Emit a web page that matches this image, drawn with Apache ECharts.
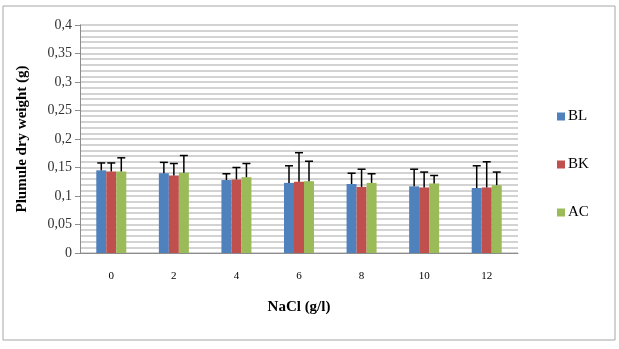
<!DOCTYPE html>
<html>
<head>
<meta charset="utf-8">
<script src="https://cdn.jsdelivr.net/npm/echarts@6/dist/echarts.min.js"></script>
<style>
  html, body { margin: 0; padding: 0; background: #fff; }
  #chart { width: 619px; height: 349px; }
</style>
</head>
<body>
<div id="chart"></div>
<script>
// NaCl concentration (g/l)
var categories = ['0', '2', '4', '6', '8', '10', '12'];

var blValues = [0.145, 0.140, 0.128, 0.123, 0.121, 0.117, 0.114];
var bkValues = [0.143, 0.136, 0.129, 0.125, 0.116, 0.115, 0.115];
var acValues = [0.143, 0.141, 0.133, 0.126, 0.123, 0.122, 0.119];

// top of the error bars
var blErrTop = [0.158, 0.159, 0.139, 0.153, 0.140, 0.147, 0.153];
var bkErrTop = [0.158, 0.157, 0.150, 0.176, 0.147, 0.142, 0.160];
var acErrTop = [0.167, 0.171, 0.157, 0.161, 0.139, 0.136, 0.142];

var yTicks = ['0', '0,05', '0,1', '0,15', '0,2', '0,25', '0,3', '0,35', '0,4'];

var colors = ['#4F81BD', '#C0504D', '#9BBB59'];
var barW = 10;
var serif = '"Liberation Serif", "DejaVu Serif", serif';

function errSeries(values, tops, idx) {
    var data = values.map(function (v, i) { return [i, v, tops[i]]; });
    return {
        type: 'custom',
        name: 'err' + idx,
        z: 10,
        silent: true,
        data: data,
        renderItem: function (params, api) {
            var base = api.coord([api.value(0), api.value(1)]);
            var top = api.coord([api.value(0), api.value(2)]);
            var x = base[0] + (idx - 1) * barW;
            var style = { stroke: '#000', lineWidth: 1.5 };
            return {
                type: 'group',
                children: [
                    { type: 'line', shape: { x1: x, y1: base[1], x2: x, y2: top[1] }, style: style },
                    { type: 'line', shape: { x1: x - 4, y1: top[1], x2: x + 4, y2: top[1] }, style: style }
                ]
            };
        }
    };
}

function barSeries(name, values, idx) {
    return {
        name: name,
        type: 'bar',
        barWidth: barW,
        barGap: '0%',
        itemStyle: { color: colors[idx] },
        data: values
    };
}

var option = {
    animation: false,
    graphic: [{
        type: 'rect',
        shape: { x: 3, y: 6, width: 612, height: 334 },
        style: { fill: 'none', stroke: '#a6a6a6', lineWidth: 1 },
        z: -1
    }],
    grid: { left: 80, right: 101, top: 25, bottom: 96 },
    legend: {
        orient: 'vertical',
        left: 552,
        top: 104,
        itemWidth: 8,
        itemHeight: 8,
        itemGap: 33,
        icon: 'rect',
        data: ['BL', 'BK', 'AC'],
        textStyle: { fontFamily: serif, fontSize: 15, color: '#000', padding: [0, 0, 0, -2] }
    },
    xAxis: {
        type: 'category',
        data: categories,
        name: 'NaCl (g/l)',
        nameLocation: 'middle',
        nameGap: 47,
        nameTextStyle: { fontFamily: serif, fontWeight: 'bold', fontSize: 15, color: '#000' },
        axisLine: { lineStyle: { color: '#8c8c8c' } },
        axisTick: { show: false },
        axisLabel: { fontFamily: serif, fontSize: 11, color: '#000', margin: 18 }
    },
    yAxis: [{
        type: 'value',
        min: 0,
        max: 0.4,
        interval: 0.05,
        name: 'Plumule dry weight (g)',
        nameLocation: 'middle',
        nameGap: 50,
        nameTextStyle: { fontFamily: serif, fontWeight: 'bold', fontSize: 15, color: '#000' },
        axisLine: { show: true, lineStyle: { color: '#8c8c8c' } },
        axisTick: { show: true, length: 5, lineStyle: { color: '#8c8c8c' } },
        axisLabel: {
            fontFamily: serif, fontSize: 14, color: '#333', margin: 8,
            formatter: function (v) { return yTicks[Math.round(v / 0.05)]; }
        },
        splitLine: { show: false }
    }, {
        type: 'value',
        min: 0,
        max: 0.4,
        interval: 0.01,
        position: 'left',
        axisLine: { show: false },
        axisTick: { show: false },
        axisLabel: { show: false },
        splitLine: { show: true, lineStyle: { color: '#c4c4c4', width: 1.5 } }
    }],
    series: [
        barSeries('BL', blValues, 0),
        barSeries('BK', bkValues, 1),
        barSeries('AC', acValues, 2),
        errSeries(blValues, blErrTop, 0),
        errSeries(bkValues, bkErrTop, 1),
        errSeries(acValues, acErrTop, 2)
    ]
};

var myChart = echarts.init(document.getElementById('chart'));
myChart.setOption(option);
</script>
</body>
</html>
